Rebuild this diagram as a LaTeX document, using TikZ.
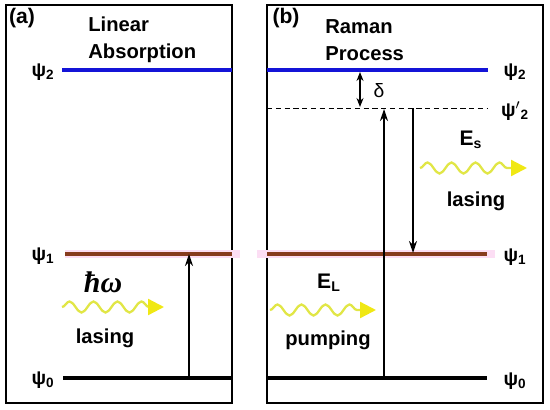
\documentclass[tikz,border=0pt]{standalone}
\usepackage{fontspec}
\setmainfont{Liberation Sans}
\newfontfamily\hwfont{Liberation Serif}
\usetikzlibrary{arrows.meta,decorations.pathmorphing}
\definecolor{lvblue}{RGB}{20,20,215}
\definecolor{lvbrown}{RGB}{135,60,30}
\definecolor{lvglow}{RGB}{252,222,244}
\definecolor{wavecol}{RGB}{225,230,70}
\definecolor{wavetip}{RGB}{240,232,20}

\begin{document}
\begin{tikzpicture}[x=0.02cm,y=-0.02cm,>={Stealth[length=2.4mm,width=1.6mm]},
  frame/.style={draw,line width=1.1pt},
  title/.style={font=\fontsize{11.5}{15.2}\selectfont\bfseries,align=left,anchor=west,inner sep=0pt},
  lbl/.style={font=\fontsize{11}{13}\selectfont\bfseries,inner sep=1pt},
  lvl/.style={line width=2pt},
  glow/.style={lvglow,line width=4.5pt},
  trans/.style={->,line width=0.8pt},
  photon/.style={wavecol,line width=1.3pt,decorate,
    decoration={snake,amplitude=0.11cm,segment length=0.48cm,post length=0.3cm},
    -{Triangle[length=3.2mm,width=3.2mm,color=wavetip]}}]
  \useasboundingbox (0,0) rectangle (550,409);
  % frames
  \draw[frame] (6,5) rectangle (232,403);
  \draw[frame] (267,5) rectangle (543,403);
  \node[lbl,font=\fontsize{12}{14}\selectfont\bfseries] (pa) at (22,18) {(a)};
  \node[lbl,font=\fontsize{12}{14}\selectfont\bfseries] (pb) at (286,18) {(b)};
  \node[title] (ttla) at (88,40) {Linear\\Absorption};
  \node[title] (ttlb) at (325,40) {Raman\\Process};

  % (a) levels
  \coordinate (a2l) at (62,70);  \coordinate (a2r) at (232,70);
  \coordinate (a1l) at (65,254); \coordinate (a1r) at (232,254);
  \coordinate (a0l) at (63,378); \coordinate (a0r) at (232,378);
  \draw[glow] (65,254) -- (240,254);
  \draw[lvl,lvblue] (a2l) -- (a2r);
  \draw[lvl,lvbrown] (a1l) -- (a1r);
  \draw[lvl] (a0l) -- (a0r);
  \node[lbl] (psa2) at (43,72) {ψ\textsubscript{2}};
  \node[lbl] (psa1) at (43,256) {ψ\textsubscript{1}};
  \node[lbl] (psa0) at (43,380) {ψ\textsubscript{0}};
  \coordinate (aup0) at (189,378); \coordinate (aup1) at (189,254);
  \draw[trans] (aup0) -- (aup1);
  \node (hw) at (103,282) {\hwfont\fontsize{17}{19}\selectfont\bfseries\itshape ħω};
  \coordinate (wa0) at (62,307); \coordinate (wa1) at (164,307);
  \draw[photon] (wa0) -- (wa1);
  \node[title,anchor=center] (lasa) at (105,338) {lasing};

  % (b) levels
  \coordinate (b2l) at (267,70);  \coordinate (b2r) at (488,70);
  \coordinate (bvl) at (267,108); \coordinate (bvr) at (487,108);
  \coordinate (b1l) at (267,254); \coordinate (b1r) at (487,254);
  \coordinate (b0l) at (267,378); \coordinate (b0r) at (487,378);
  \draw[glow] (257,254) -- (495,254);
  \draw[lvl,lvblue] (b2l) -- (b2r);
  \draw[dashed,line width=0.5pt,dash pattern=on 3pt off 2pt] (bvl) -- (bvr);
  \draw[lvl,lvbrown] (b1l) -- (b1r);
  \draw[lvl] (b0l) -- (b0r);
  \node[lbl] (psb2) at (515,72) {ψ\textsubscript{2}};
  \node[lbl] (psbv) at (515,111) {ψ$'$\textsubscript{2}};
  \node[lbl] (psb1) at (515,257) {ψ\textsubscript{1}};
  \node[lbl] (psb0) at (515,381) {ψ\textsubscript{0}};
  \coordinate (dtop) at (360,72); \coordinate (dbot) at (360,107);
  \draw[<->,line width=0.7pt,>={Stealth[length=1.8mm,width=1.4mm]}] (dtop) -- (dbot);
  \node[font=\fontsize{11}{13}\selectfont] (dl) at (379,91) {δ};
  \coordinate (bup0) at (384,378); \coordinate (bup1) at (384,109);
  \draw[trans] (bup0) -- (bup1);
  \coordinate (bdn0) at (413,108); \coordinate (bdn1) at (413,253);
  \draw[trans] (bdn0) -- (bdn1);
  \node[lbl,font=\fontsize{12}{14}\selectfont\bfseries] (el) at (329,283) {E\textsubscript{L}};
  \coordinate (wp0) at (270,310); \coordinate (wp1) at (376,310);
  \draw[photon] (wp0) -- (wp1);
  \node[title,anchor=center] (pump) at (328,340) {pumping};
  \node[lbl,font=\fontsize{12}{14}\selectfont\bfseries] (es) at (471,140) {E\textsubscript{s}};
  \coordinate (ws0) at (420,168); \coordinate (ws1) at (527,168);
  \draw[photon] (ws0) -- (ws1);
  \node[title,anchor=center] (lasb) at (476,201) {lasing};
\end{tikzpicture}
\end{document}
